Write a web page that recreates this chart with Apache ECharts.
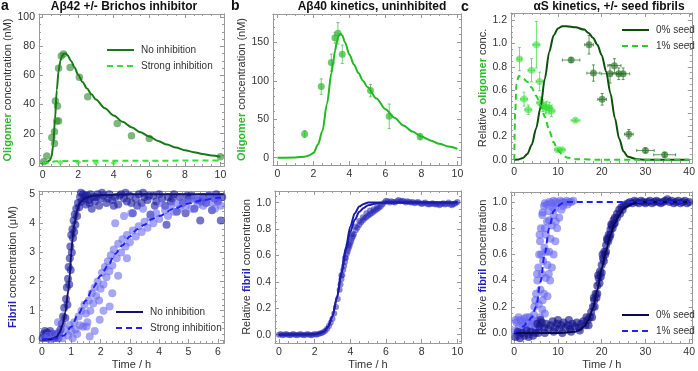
<!DOCTYPE html>
<html>
<head>
<meta charset="utf-8">
<script src="https://cdn.jsdelivr.net/npm/echarts@6.0.0/dist/echarts.min.js"></script>
<style>
  html, body { margin: 0; padding: 0; background: #fff; }
  #chart { width: 698px; height: 371px; }
</style>
</head>
<body>
<div id="chart"></div>
<script>
// ---------- a, top: Abeta42 oligomers (nM) ----------
var aOligoTime = [0.06, 0.24, 0.52, 0.67, 0.67, 0.72, 0.84, 0.8, 0.9, 0.9, 1.05, 1.18, 1.55, 2.07, 2.54, 4.2, 5.0, 6.0, 10];
var aOligoConc = [0.7, 4.6, 17.4, 21.3, 13.3, 42.4, 39, 28.7, 28.7, 65, 73.4, 74.8, 65.4, 58.7, 45.4, 27, 18.6, 16.7, 4.1];
var aInhibTime = [1, 2, 3, 4];
var aInhibConc = [0.2, 0.3, 0.1, 0.1];
var aFitNoT = [0, 0.2, 0.4, 0.5, 0.6, 0.7, 0.8, 0.9, 1.0, 1.1, 1.2, 1.3, 1.4, 1.6, 1.8, 2, 2.25, 2.5, 2.75, 3, 3.5, 4, 4.5, 5, 5.5, 6, 6.5, 7, 7.5, 8, 8.5, 9, 9.5, 10];
var aFitNoY = [0, 0.1, 1.5, 4, 12, 30, 50, 63, 70, 73.5, 75, 75, 74, 70, 65.5, 60.5, 55.5, 51, 47, 43.5, 37.5, 32.5, 28.2, 24.5, 21, 18, 15, 12.5, 10.5, 8.7, 7.3, 6.1, 5.0, 4.2];
var aFitStrT = [0, 0.3, 0.5, 0.7, 1, 2, 4, 6, 8, 10];
var aFitStrY = [0, 0.1, 0.5, 1, 1.2, 1.3, 1.4, 1.45, 1.5, 1.5];

// ---------- b, top: Abeta40 oligomers (nM) ----------
var bOligoTime = [1.51, 2.43, 2.99, 3.19, 3.36, 3.6, 5.17, 6.21, 7.93];
var bOligoConc = [30.8, 92.4, 123.6, 156, 161.7, 134.4, 87.2, 53.8, 27.3];
var bOligoErr = [4.5, 10, 11, 7, 14, 12, 8, 16, 4];
var bFitT = [0, 1, 1.5, 1.75, 2, 2.25, 2.5, 2.75, 3, 3.1, 3.2, 3.3, 3.4, 3.5, 3.6, 3.75, 4, 4.25, 4.5, 4.75, 5, 5.5, 6, 6.5, 7, 7.5, 8, 8.5, 9, 9.5, 10];
var bFitY = [0, 0.3, 1.2, 3, 6, 17, 35, 70, 110, 125, 139, 151, 159, 161, 159, 150, 134, 121, 110, 100, 92, 77, 63, 52, 42, 34, 27.5, 22.5, 18, 14.5, 11.5];

// ---------- c, top: alpha-synuclein relative oligomers ----------
var cOligo0Time = [13.0, 17.1, 18.1, 20.1, 22.9, 21.9, 23.9, 24.9, 26.2, 30.0, 34.4];
var cOligo0Conc = [0.858, 0.99, 0.746, 0.52, 0.81, 0.74, 0.74, 0.74, 0.22, 0.08, 0.043];
var cOligo0TErr = [2, 1, 1.5, 1, 1.5, 2, 1.5, 1.5, 1, 2, 2.5];
var cOligo0CErr = [0.02, 0.08, 0.07, 0.05, 0.06, 0.08, 0.05, 0.05, 0.04, 0.02, 0.02];
var cOligo1Time = [1.19, 2.23, 3.2, 3.94, 5.06, 5.8, 5.95, 6.54, 7.1, 7.4, 8.0, 8.5, 9.96, 10.85, 14.0];
var cOligo1Conc = [0.867, 0.522, 0.43, 0.77, 0.99, 0.674, 0.49, 0.465, 0.445, 0.453, 0.445, 0.42, 0.086, 0.086, 0.339];
var cOligo1TErr = [0.5, 0.8, 0.8, 0.8, 0.8, 0.8, 0.8, 0.8, 0.8, 0.8, 0.8, 0.8, 0.8, 0.8, 1.0];
var cOligo1CErr = [0.1, 0.06, 0.04, 0.1, 0.2, 0.08, 0.05, 0.05, 0.05, 0.05, 0.05, 0.05, 0.01, 0.01, 0.01];
var cFit0T = [0, 1, 2, 3, 4, 5, 6, 7, 8, 9, 10, 11, 12, 14, 16, 17, 18, 19, 20, 21, 22, 23, 24, 25, 26, 28, 30, 40];
var cFit0Y = [0, 0.003, 0.015, 0.05, 0.13, 0.27, 0.45, 0.7, 0.93, 1.07, 1.13, 1.15, 1.15, 1.14, 1.12, 1.09, 1.05, 0.99, 0.9, 0.76, 0.57, 0.36, 0.18, 0.07, 0.025, 0.005, 0, 0];
var cFit1T = [0, 0.2, 0.5, 1, 2, 3, 4, 5, 6, 7, 8, 9, 10, 11, 12, 14, 20, 40];
var cFit1Y = [0, 0.4, 0.65, 0.72, 0.7, 0.67, 0.62, 0.55, 0.47, 0.37, 0.25, 0.15, 0.08, 0.045, 0.02, 0.005, 0, 0];

// ---------- a, bottom: Abeta42 fibrils (uM) ----------
var aFibNo = [[0.02,0.05],[0.06,0.2],[0.1,0.3],[0.13,0.1],[0.17,0.25],[0.2,0.05],[0.24,0.15],[0.28,0.3],[0.32,0.1],[0.36,0.2],[0.4,0.05],[0.44,0.15],[0.48,0.1],[0.52,0.2],[0.56,0.05],[0.6,0.25],[0.64,0.35],[0.68,0.55],[0.72,0.8],[0.76,1.1],[0.8,0.75],[0.82,1.4],[0.85,1.8],[0.87,1.2],[0.89,2.1],[0.91,2.5],[0.93,1.9],[0.95,2.8],[0.97,3.2],[0.98,2.4],[1.0,3.6],[1.02,3.0],[1.04,3.8],[1.06,3.5],[1.08,4.1],[1.1,3.7],[1.12,4.3],[1.14,3.95],[1.17,4.5],[1.2,4.25],[1.23,4.7],[1.27,4.55],[1.3,4.9],[1.35,4.75],[1.4,5.0],[1.45,4.85],[1.5,4.65],[1.55,4.95],[1.6,4.8],[1.65,5.0],[1.7,4.5],[1.75,4.9],[1.8,4.75],[1.9,5.0],[1.95,4.6],[2.0,4.85],[2.1,4.95],[2.2,4.7],[2.3,5.0],[2.4,4.8],[2.5,4.9],[2.6,4.65],[2.7,5.0],[2.8,4.85],[2.9,4.75],[3.0,4.95],[3.1,4.35],[3.2,4.85],[3.3,5.0],[3.4,4.7],[3.5,4.9],[3.6,4.8],[3.7,4.3],[3.8,4.95],[3.9,4.75],[4.0,5.0],[4.1,4.85],[4.2,4.6],[4.25,3.95],[4.3,4.9],[4.4,4.75],[4.5,5.0],[4.6,4.4],[4.7,4.9],[4.8,4.7],[4.9,4.35],[5.0,4.85],[5.1,4.95],[5.2,4.5],[5.3,4.8],[5.4,4.1],[5.5,4.9],[5.6,4.7],[5.7,4.95],[5.8,4.45],[5.9,4.85],[6.0,4.75],[6.1,4.1],[6.15,4.9],[1.33,5.05],[1.48,4.95],[1.62,4.7],[1.85,4.9],[2.05,5.05],[2.25,4.85],[2.45,4.6],[2.65,4.95],[2.85,5.05],[3.05,4.7],[3.25,4.6],[3.45,5.05],[3.65,4.95],[3.85,4.6],[4.45,4.85],[4.95,4.95],[5.45,4.75],[5.95,5.0]];
var aFibStrong = [[0.1,0.05],[0.2,0.15],[0.3,0.0],[0.4,0.2],[0.5,0.1],[0.55,0.6],[0.6,0.3],[0.7,0.05],[0.8,0.35],[0.9,0.15],[0.95,0.5],[1.0,0.3],[1.05,0.05],[1.1,0.6],[1.15,0.35],[1.2,0.2],[1.25,0.8],[1.3,0.5],[1.35,1.0],[1.4,0.45],[1.45,1.2],[1.5,0.9],[1.55,0.6],[1.6,1.35],[1.65,1.0],[1.7,1.6],[1.75,1.25],[1.8,1.8],[1.85,1.5],[1.9,2.0],[1.95,1.35],[2.0,1.75],[2.05,2.3],[2.1,1.9],[2.15,2.5],[2.2,2.15],[2.25,2.7],[2.3,2.35],[2.35,2.9],[2.4,2.55],[2.45,3.1],[2.5,4.0],[2.55,2.8],[2.6,3.3],[2.7,3.0],[2.75,3.45],[2.8,4.25],[2.85,3.2],[2.9,3.6],[3.0,3.35],[3.05,4.35],[3.1,3.75],[3.2,3.55],[3.3,3.9],[3.4,3.7],[3.45,4.5],[3.5,4.05],[3.6,3.85],[3.7,4.2],[3.8,4.0],[3.9,4.35],[4.0,4.15],[4.05,4.7],[4.2,4.45],[4.3,4.25],[4.4,4.6],[4.5,4.4],[4.6,4.7],[4.7,4.5],[4.8,4.8],[4.9,4.6],[5.05,4.8],[5.1,4.5],[5.2,4.85],[5.3,4.65],[5.4,4.9],[5.5,4.6],[5.6,4.8],[5.7,4.95],[5.8,4.7],[5.85,4.87],[5.9,4.5],[6.0,4.85],[6.1,4.6],[1.52,0.46],[1.63,0.11],[1.8,0.3],[1.97,0.69],[2.1,1.0],[2.31,1.14],[2.4,1.6],[2.6,2.2],[2.9,2.8]];
var aFibFitNoT = [0, 0.3, 0.5, 0.6, 0.7, 0.8, 0.9, 0.95, 1.0, 1.05, 1.1, 1.2, 1.3, 1.5, 1.7, 2, 3, 6.2];
var aFibFitNoY = [0, 0.02, 0.1, 0.25, 0.5, 0.95, 1.7, 2.2, 3.0, 3.5, 3.95, 4.45, 4.72, 4.88, 4.94, 4.97, 5, 5];
var aFibFitStrT = [0, 0.5, 0.75, 1, 1.25, 1.5, 1.75, 2, 2.25, 2.5, 2.75, 3, 3.25, 3.5, 3.75, 4, 4.5, 5, 5.5, 6, 6.2];
var aFibFitStrY = [0, 0.05, 0.15, 0.45, 0.9, 1.35, 1.8, 2.2, 2.55, 2.95, 3.25, 3.55, 3.8, 3.95, 4.15, 4.25, 4.5, 4.68, 4.8, 4.88, 4.9];

// ---------- b, bottom: Abeta40 relative fibrils ----------
var bFib = [[0,0],[0.1,0.005],[0.2,-0.005],[0.3,0],[0.4,0.005],[0.5,0],[0.6,-0.005],[0.7,0],[0.8,0.005],[0.9,0],[1.0,-0.005],[1.1,0],[1.2,0.005],[1.3,0],[1.4,-0.005],[1.5,0],[1.6,0.005],[1.7,0],[1.8,-0.005],[1.9,0],[2.0,0.005],[2.1,0],[2.2,0.005],[2.3,0.008],[2.4,0.012],[2.5,0.02],[2.6,0.03],[2.7,0.045],[2.8,0.065],[2.9,0.09],[3.0,0.12],[3.1,0.16],[3.2,0.21],[3.3,0.27],[3.4,0.34],[3.45,0.38],[3.5,0.42],[3.55,0.45],[3.6,0.49],[3.65,0.52],[3.7,0.55],[3.75,0.58],[3.8,0.61],[3.85,0.63],[3.9,0.65],[3.95,0.67],[4.0,0.69],[4.05,0.71],[4.1,0.73],[4.15,0.745],[4.2,0.76],[4.3,0.79],[4.4,0.81],[4.5,0.83],[4.6,0.85],[4.7,0.865],[4.8,0.88],[4.9,0.89],[5.0,0.9],[5.1,0.91],[5.2,0.92],[5.3,0.93],[5.4,0.94],[5.5,0.95],[5.6,0.96],[5.7,0.97],[5.8,0.985],[5.9,1.0],[6.0,1.015],[6.1,1.01],[6.2,1.0],[6.3,1.01],[6.4,1.005],[6.5,1.0],[6.6,1.01],[6.7,1.02],[6.8,1.01],[6.9,1.015],[7.0,1.01],[7.1,1.0],[7.2,1.01],[7.3,1.005],[7.4,1.0],[7.5,1.005],[7.6,0.995],[7.7,1.0],[7.8,1.005],[7.9,0.995],[8.0,0.99],[8.1,0.995],[8.2,1.0],[8.3,0.99],[8.4,0.985],[8.5,0.99],[8.6,0.995],[8.7,0.99],[8.8,0.985],[8.9,0.99],[9.0,0.98],[9.1,0.99],[9.2,0.995],[9.3,0.985],[9.4,0.99],[9.5,1.0],[9.6,0.985],[9.7,0.98],[9.8,0.99],[9.9,0.995],[10.0,1.005],[3.5,0.45],[3.7,0.58],[3.9,0.68],[4.1,0.76],[4.3,0.82],[4.5,0.86],[4.7,0.89],[4.9,0.92],[5.1,0.94],[5.3,0.95],[5.5,0.97]];
var bFibFit1T = [0, 2, 2.5, 2.75, 3, 3.25, 3.5, 3.75, 4, 4.25, 4.5, 4.75, 5, 10];
var bFibFit1Y = [0, 0.003, 0.02, 0.06, 0.14, 0.28, 0.47, 0.66, 0.82, 0.92, 0.97, 0.99, 1, 1];
var bFibFit2T = [0, 2, 2.5, 2.75, 3, 3.25, 3.5, 3.75, 4, 4.25, 4.5, 4.75, 5, 5.5, 6, 10];
var bFibFit2Y = [0, 0.003, 0.02, 0.06, 0.14, 0.28, 0.46, 0.64, 0.78, 0.87, 0.93, 0.96, 0.98, 0.995, 1, 1];

// ---------- c, bottom: alpha-synuclein relative fibrils ----------
var cFib1 = [[0.2,0.02],[0.5,0.08],[0.8,-0.02],[1.1,0.05],[1.4,0.1],[1.7,0.0],[2.0,0.06],[2.3,0.11],[2.6,0.03],[2.9,0.08],[3.2,-0.01],[3.5,0.12],[3.8,0.05],[4.1,0.1],[4.4,0.02],[4.7,0.07],[5.0,0.04],[5.3,0.09],[5.6,0.03],[0.3,0.1],[1.0,0.12],[1.9,0.09],[2.8,0.12],[3.6,0.07],[4.5,0.14],[4.6,0.2],[5.0,0.3],[5.3,0.4],[5.5,0.5],[5.7,0.6],[5.9,0.7],[6.1,0.8],[6.4,0.9],[6.8,0.97],[5.6,0.22],[6.0,0.33],[6.3,0.45],[6.6,0.55],[6.9,0.65],[7.2,0.75],[7.5,0.85],[7.8,0.93],[6.4,0.18],[6.8,0.3],[7.2,0.42],[7.6,0.52],[8.0,0.62],[8.3,0.72],[8.6,0.82],[9.0,0.9],[9.3,0.95],[7.0,0.15],[7.6,0.28],[8.2,0.4],[8.6,0.5],[9.0,0.6],[9.4,0.7],[9.8,0.8],[10.3,0.88],[10.8,0.94],[7.5,0.98],[8,1.0],[8.5,0.99],[9,1.01],[9.5,1.0],[10,0.99],[10.5,1.01],[11,1.0],[11.5,0.995],[12,1.01],[12.5,1.0],[13,1.0],[13.5,1.01],[8.8,0.96],[11.2,0.97],[12.2,0.98],[4.8,0.25],[5.2,0.45],[5.8,0.75],[5.9,0.12],[6.2,0.6],[6.5,0.25],[7.0,0.8],[7.3,0.62],[7.9,0.45],[8.0,0.86],[9.5,0.85],[6.5,0.92],[7.0,0.99]];
var cFib0 = [[0.3,-0.03],[0.8,0.01],[1.3,-0.04],[1.8,0.0],[2.3,-0.02],[2.8,0.02],[3.3,-0.03],[3.8,0.01],[4.3,-0.02],[4.8,0.0],[5.3,0.07],[5.8,0.05],[6.3,0.08],[6.8,0.04],[7.3,0.07],[7.8,0.03],[8.3,0.06],[8.8,0.09],[9.3,0.04],[9.8,0.07],[10.3,0.03],[10.8,0.06],[11.3,0.08],[11.8,0.04],[12.3,0.06],[12.8,0.03],[13.3,0.07],[13.8,0.05],[14.3,0.08],[14.8,0.04],[15.3,0.07],[15.8,0.09],[16.3,0.06],[16.8,0.1],[5.5,0.0],[7,0.0],[9,0.01],[11,0.0],[13,0.01],[15,0.02],[6,0.1],[10,0.1],[12.5,0.1],[17.3,0.12],[17.6,0.16],[18.0,0.2],[18.3,0.25],[18.6,0.3],[19.0,0.36],[19.3,0.42],[19.6,0.47],[20.0,0.52],[20.3,0.57],[20.6,0.62],[21.0,0.67],[21.3,0.71],[21.6,0.75],[22.0,0.79],[22.3,0.82],[22.7,0.86],[23.0,0.88],[23.5,0.91],[24.0,0.94],[24.5,0.96],[25.0,0.97],[25.5,0.98],[26,0.99],[17.8,0.12],[18.4,0.2],[19.0,0.3],[19.5,0.38],[20.0,0.46],[20.5,0.55],[21.0,0.62],[21.5,0.7],[22.0,0.75],[22.5,0.8],[23.0,0.84],[23.5,0.88],[24.2,0.91],[24.8,0.94],[26.5,1.0],[27,0.99],[27.5,1.01],[28,1.0],[28.5,0.99],[29,1.01],[29.5,1.0],[30,0.99],[30.5,1.0],[31,1.01],[31.5,0.99],[32,1.0],[32.5,1.01],[33,1.0],[33.5,0.99],[34,1.0],[34.5,1.01],[35,1.02],[35.5,1.0],[36,1.01],[36.5,0.99],[37,1.0],[37.5,1.01],[38,0.99],[38.5,1.0],[39,1.01],[39.5,0.99],[40,1.0],[18.8,0.27],[19.8,0.43],[20.8,0.6],[21.8,0.73],[22.8,0.83],[18.2,0.27],[19.2,0.44],[20.2,0.6],[21.2,0.72],[22.2,0.83],[16.5,0.12],[17.0,0.06]];
var cFibFit0T = [0, 10, 14, 15, 16, 17, 18, 19, 20, 21, 22, 23, 24, 25, 26, 27, 28, 30, 40];
var cFibFit0Y = [0, 0, 0.01, 0.025, 0.05, 0.1, 0.19, 0.33, 0.49, 0.63, 0.75, 0.84, 0.9, 0.95, 0.97, 0.985, 0.995, 1, 1];
var cFibFit1T = [0, 1, 2, 3, 4, 5, 6, 7, 8, 9, 10, 11, 12, 14, 40];
var cFibFit1Y = [0, 0.02, 0.05, 0.08, 0.12, 0.2, 0.39, 0.61, 0.8, 0.93, 0.97, 0.99, 1, 1, 1];

// ---------- layout ----------
var grids = [
  { left: 39, top: 14, width: 185, height: 152 },
  { left: 273, top: 14, width: 188, height: 151 },
  { left: 511, top: 13, width: 186, height: 150 },
  { left: 39, top: 191, width: 185, height: 152 },
  { left: 275, top: 191, width: 186, height: 152 },
  { left: 511, top: 192, width: 186, height: 151 }
];

var frameColor = '#9a9a9a';
var textColor = '#333';
var font = 'Liberation Sans, Arial, sans-serif';

function zip(xs, ys) {
  return xs.map(function (x, i) { return [x, ys[i]]; });
}

function minorsOf(min, max, step, majors) {
  var out = [];
  for (var v = Math.ceil(min / step) * step; v <= max; v += step) {
    var r = Math.round(v * 1000) / 1000;
    if (majors.indexOf(r) < 0) out.push(r);
  }
  return out;
}

// four axes per direction: main (labels + major ticks), minor ticks, mirror major, mirror minor
function frameAxes(gi, dim, min, max, majors, minorStep, extra) {
  var pos = dim === 'x' ? ['bottom', 'top'] : ['left', 'right'];
  var minors = minorsOf(min, max, minorStep, majors);
  var base = { gridIndex: gi, type: 'value', min: min, max: max, splitLine: { show: false } };
  var main = Object.assign({}, base, {
    position: pos[0],
    axisLine: { show: true, onZero: false, lineStyle: { color: frameColor, width: 1 } },
    axisTick: { show: true, inside: true, length: 4, customValues: majors, lineStyle: { color: frameColor } },
    axisLabel: { show: true, customValues: majors, color: textColor, fontSize: 10.5, fontFamily: font, margin: 4 }
  }, extra || {});
  function plain(p, vals, len) {
    return Object.assign({}, base, {
      position: p,
      axisLine: { show: p === pos[1], onZero: false, lineStyle: { color: frameColor, width: 1 } },
      axisTick: { show: true, inside: true, length: len, customValues: vals, lineStyle: { color: frameColor } },
      axisLabel: { show: false }
    });
  }
  return [main, plain(pos[0], minors, 2), plain(pos[1], majors, 4), plain(pos[1], minors, 2)];
}

function yName(text, gap) {
  return {
    name: text, nameLocation: 'middle', nameGap: gap,
    nameTextStyle: {
      color: textColor, fontSize: 11, fontFamily: font,
      rich: {
        g: { color: '#2eb82e', fontWeight: 'bold', fontSize: 11, fontFamily: font },
        b: { color: '#2323b8', fontWeight: 'bold', fontSize: 11, fontFamily: font }
      }
    }
  };
}

var timeName = {
  name: 'Time / h', nameLocation: 'middle', nameGap: 16,
  nameTextStyle: { color: textColor, fontSize: 11, fontFamily: font }
};

var xAxes = [].concat(
  frameAxes(0, 'x', -0.2, 10.2, [0, 2, 4, 6, 8, 10], 0.5),
  frameAxes(1, 'x', -0.25, 10.2, [0, 2, 4, 6, 8, 10], 0.5),
  frameAxes(2, 'x', -0.75, 40.6, [0, 10, 20, 30, 40], 2),
  frameAxes(3, 'x', -0.1, 6.21, [0, 1, 2, 3, 4, 5, 6], 0.2, timeName),
  frameAxes(4, 'x', -0.22, 10.2, [0, 2, 4, 6, 8, 10], 0.5, timeName),
  frameAxes(5, 'x', -0.74, 40.8, [0, 10, 20, 30, 40], 2, timeName)
);
var yAxes = [].concat(
  frameAxes(0, 'y', -2.2, 102.2, [0, 20, 40, 60, 80, 100], 5, yName('{g|Oligomer} concentration (nM)', 24)),
  frameAxes(1, 'y', -9.5, 186.8, [0, 50, 100, 150], 10, yName('{g|Oligomer} concentration (nM)', 22)),
  frameAxes(2, 'y', -0.028, 1.263, [0, 0.2, 0.4, 0.6, 0.8, 1.0, 1.2], 0.05, yName('Relative {g|oligomer} conc.', 19)),
  frameAxes(3, 'y', -0.11, 5.11, [0, 1, 2, 3, 4, 5], 0.2, yName('{b|Fibril} concentration (\u03bcM)', 21)),
  frameAxes(4, 'y', -0.063, 1.088, [0, 0.2, 0.4, 0.6, 0.8, 1.0], 0.05, yName('Relative {b|fibril} concentration', 22)),
  frameAxes(5, 'y', -0.076, 1.076, [0, 0.2, 0.4, 0.6, 0.8, 1.0], 0.05, yName('Relative {b|fibril} concentration', 23))
);
// one-decimal labels for the relative scales
[2, 4, 5].forEach(function (gi) {
  yAxes[gi * 4].axisLabel.formatter = function (v) { return v.toFixed(1); };
});

function dots(gi, data, color, size, symbol) {
  return {
    type: 'scatter', xAxisIndex: gi * 4, yAxisIndex: gi * 4, data: data,
    symbol: symbol || 'circle', symbolSize: size, silent: true, z: 2,
    itemStyle: { color: color }
  };
}

function curve(gi, name, data, color, dashed) {
  return {
    type: 'line', name: name, xAxisIndex: gi * 4, yAxisIndex: gi * 4, data: data,
    showSymbol: false, symbol: 'none', smooth: 0.3, smoothMonotone: 'x', silent: true, z: 4,
    lineStyle: { color: color, width: 2, type: dashed ? [6, 4] : 'solid' },
    itemStyle: { color: color }
  };
}

function errorBars(gi, data, color) {
  return {
    type: 'custom', xAxisIndex: gi * 4, yAxisIndex: gi * 4, data: data, silent: true, z: 1,
    encode: { x: 0, y: 1 },
    renderItem: function (params, api) {
      var x = api.value(0), y = api.value(1), ex = api.value(2), ey = api.value(3);
      var st = { stroke: color, lineWidth: 1 };
      var kids = [];
      if (ey) {
        var lo = api.coord([x, y - ey]), hi = api.coord([x, y + ey]);
        kids.push({ type: 'line', shape: { x1: lo[0], y1: lo[1], x2: hi[0], y2: hi[1] }, style: st });
        kids.push({ type: 'line', shape: { x1: lo[0] - 1.5, y1: lo[1], x2: lo[0] + 1.5, y2: lo[1] }, style: st });
        kids.push({ type: 'line', shape: { x1: hi[0] - 1.5, y1: hi[1], x2: hi[0] + 1.5, y2: hi[1] }, style: st });
      }
      if (ex) {
        var l = api.coord([x - ex, y]), r = api.coord([x + ex, y]);
        kids.push({ type: 'line', shape: { x1: l[0], y1: l[1], x2: r[0], y2: r[1] }, style: st });
        kids.push({ type: 'line', shape: { x1: l[0], y1: l[1] - 1.5, x2: l[0], y2: l[1] + 1.5 }, style: st });
        kids.push({ type: 'line', shape: { x1: r[0], y1: r[1] - 1.5, x2: r[0], y2: r[1] + 1.5 }, style: st });
      }
      return { type: 'group', children: kids };
    }
  };
}

var bErrData = bOligoTime.map(function (t, i) { return [t, bOligoConc[i], 0, bOligoErr[i]]; });
var c0ErrData = cOligo0Time.map(function (t, i) { return [t, cOligo0Conc[i], cOligo0TErr[i], cOligo0CErr[i]]; });
var c1ErrData = cOligo1Time.map(function (t, i) { return [t, cOligo1Conc[i], cOligo1TErr[i], cOligo1CErr[i]]; });

var darkGreen = '#167a16', brightGreen = '#33e033';
var navy = '#12126e', blue = '#1f1fff';

var series = [
  // a top
  dots(0, zip(aOligoTime, aOligoConc), 'rgba(40,135,40,0.75)', 7.5),
  dots(0, zip(aInhibTime, aInhibConc), 'rgba(50,230,50,0.9)', 6, 'diamond'),
  curve(0, 'No inhibition#a', zip(aFitNoT, aFitNoY), darkGreen, false),
  curve(0, 'Strong inhibition#a', zip(aFitStrT, aFitStrY), brightGreen, true),
  // b top
  errorBars(1, bErrData, 'rgba(60,190,60,0.7)'),
  dots(1, zip(bOligoTime, bOligoConc), 'rgba(40,180,40,0.85)', 7),
  curve(1, 'b', zip(bFitT, bFitY), '#22b822', false),
  // c top
  errorBars(2, c0ErrData, 'rgba(40,120,40,0.75)'),
  errorBars(2, c1ErrData, 'rgba(60,220,60,0.75)'),
  dots(2, zip(cOligo0Time, cOligo0Conc), 'rgba(35,110,35,0.8)', 7),
  dots(2, zip(cOligo1Time, cOligo1Conc), 'rgba(60,220,60,0.75)', 7),
  curve(2, '0% seed#c', zip(cFit0T, cFit0Y), '#0b4f0b', false),
  curve(2, '1% seed#c', zip(cFit1T, cFit1Y), '#2dcc2d', true),
  // a bottom
  dots(3, aFibNo, 'rgba(25,25,160,0.75)', 8),
  dots(3, aFibStrong, 'rgba(100,100,240,0.72)', 8),
  curve(3, 'No inhibition#d', zip(aFibFitNoT, aFibFitNoY), navy, false),
  curve(3, 'Strong inhibition#d', zip(aFibFitStrT, aFibFitStrY), blue, true),
  // b bottom
  dots(4, bFib, 'rgba(40,40,180,0.7)', 6),
  curve(4, 'e1', zip(bFibFit1T, bFibFit1Y), '#1c1ca8', false),
  curve(4, 'e2', zip(bFibFit2T, bFibFit2Y), '#1c1ca8', false),
  // c bottom
  dots(5, cFib1, 'rgba(100,100,240,0.75)', 8),
  dots(5, cFib0, 'rgba(20,20,140,0.8)', 8),
  curve(5, '0% seed#f', zip(cFibFit0T, cFibFit0Y), '#0a0a50', false),
  curve(5, '1% seed#f', zip(cFibFit1T, cFibFit1Y), blue, true)
];

function legendAt(left, top, names) {
  return {
    left: left, top: top, orient: 'vertical', data: names,
    itemWidth: 27, itemHeight: 10, itemGap: 6, selectedMode: false,
    itemStyle: { opacity: 0 },
    textStyle: { color: textColor, fontSize: 10, fontFamily: font, padding: [0, 0, 0, 2] },
    formatter: function (n) { return n.split('#')[0]; }
  };
}

function label(x, y, text, size, align) {
  return {
    type: 'text', x: x, y: y, silent: true,
    style: { text: text, fontSize: size, fontWeight: 'bold', fontFamily: font, fill: '#111',
      textAlign: align || 'left', textVerticalAlign: 'middle' }
  };
}

var chart = echarts.init(document.getElementById('chart'));
chart.setOption({
  animation: false,
  backgroundColor: '#fff',
  grid: grids,
  xAxis: xAxes,
  yAxis: yAxes,
  legend: [
    legendAt(101, 40, ['No inhibition#a', 'Strong inhibition#a']),
    legendAt(616, 20, ['0% seed#c', '1% seed#c']),
    legendAt(110, 302, ['No inhibition#d', 'Strong inhibition#d']),
    legendAt(616, 305, ['0% seed#f', '1% seed#f'])
  ],
  graphic: [
    label(1, 6, 'a', 14),
    label(231, 6, 'b', 14),
    label(461, 7, 'c', 14),
    label(124, 7, 'A\u03b242 +/- Brichos inhibitor', 12, 'center'),
    label(372, 7, 'A\u03b240 kinetics, uninhibited', 12, 'center'),
    label(609, 7, '\u03b1S kinetics, +/- seed fibrils', 12, 'center')
  ],
  series: series
});
</script>
</body>
</html>
